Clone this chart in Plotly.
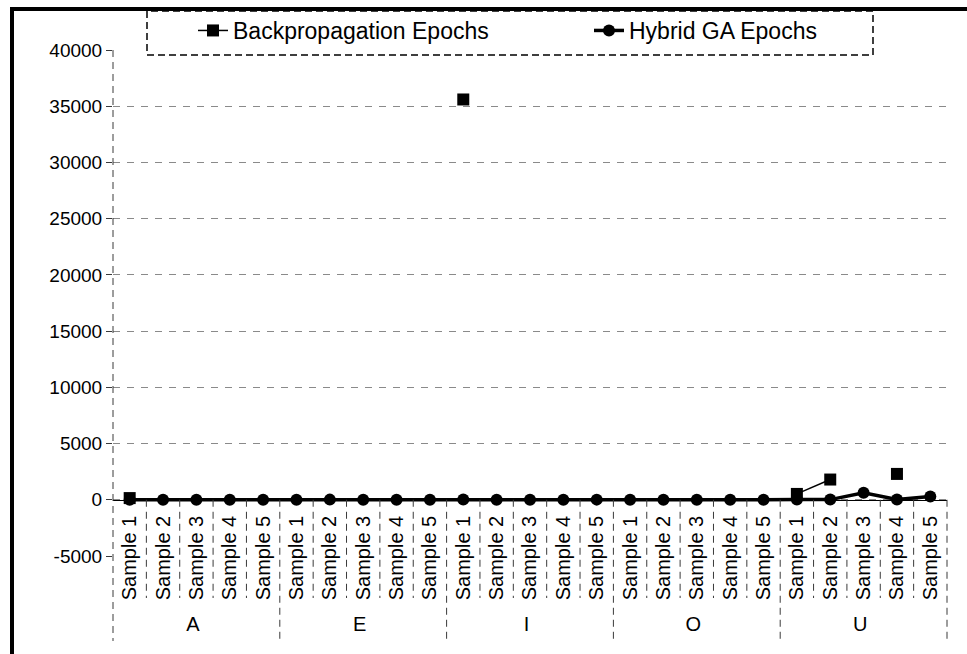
import plotly.graph_objects as go

# ---- data -------------------------------------------------------------
groups = ["A", "E", "I", "O", "U"]
samples = ["Sample 1", "Sample 2", "Sample 3", "Sample 4", "Sample 5"]

# Epochs needed to train each sample (None = no run recorded)
backprop_epochs = [
    150, None, None, None, None,      # A
    None, None, None, None, None,     # E
    35600, None, None, None, None,    # I
    None, None, None, None, None,     # O
    520, 1800, None, 2300, None,      # U
]
hybrid_ga_epochs = [
    12, 9, 10, 8, 11,                 # A
    10, 14, 9, 12, 10,                # E
    15, 10, 11, 9, 13,                # I
    12, 10, 8, 11, 9,                 # O
    20, 15, 620, 25, 300,             # U
]

y_ticks = [-5000, 0, 5000, 10000, 15000, 20000, 25000, 30000, 35000, 40000]

# ---- layout constants (pixels) ---------------------------------------
W, H = 967, 654
PL, PR, PT, PB = 113, 947, 50, 556
PW, PH = PR - PL, PB - PT
FONT = "Liberation Sans, Arial, sans-serif"

def px_x(px):
    return (px - PL) / PW

def px_y(py):
    return (PB - py) / PH

x_level_group = [g for g in groups for _ in samples]
x_level_sample = [s for _ in groups for s in samples]
n_cat = len(x_level_sample)
y_min, y_max = y_ticks[0], y_ticks[-1]
axis_frac = (0 - y_min) / (y_max - y_min)

fig = go.Figure()
fig.add_trace(go.Scatter(
    x=[x_level_group, x_level_sample], y=backprop_epochs,
    name="Backpropagation Epochs", mode="lines+markers",
    line=dict(color="black", width=1.5),
    marker=dict(symbol="square", size=12, color="black"),
    connectgaps=False,
))
fig.add_trace(go.Scatter(
    x=[x_level_group, x_level_sample], y=hybrid_ga_epochs,
    name="Hybrid GA Epochs", mode="lines+markers",
    line=dict(color="black", width=3.5),
    marker=dict(symbol="circle", size=12, color="black"),
))

shapes = []
# dashed dividers below the category axis
for i in range(n_cat + 1):
    xp = i / n_cat
    if i % len(samples) == 0:
        y_bottom = px_y(641)
    else:
        y_bottom = px_y(598)
    y_top = 1 if i == 0 else axis_frac
    shapes.append(dict(type="line", xref="paper", yref="paper",
                       x0=xp, x1=xp, y0=y_top, y1=y_bottom,
                       line=dict(color="#3a3a3a", width=1, dash="7px,5px")))
# dashed legend box
shapes.append(dict(type="rect", xref="paper", yref="paper",
                   x0=px_x(147), x1=px_x(873), y0=px_y(55), y1=px_y(11),
                   line=dict(color="black", width=1.5, dash="7px,4px")))
# frame lines along the top and left
shapes.append(dict(type="line", xref="paper", yref="paper",
                   x0=px_x(10), x1=px_x(970), y0=px_y(9), y1=px_y(9),
                   line=dict(color="black", width=4)))
shapes.append(dict(type="line", xref="paper", yref="paper",
                   x0=px_x(12), x1=px_x(12), y0=px_y(7), y1=px_y(660),
                   line=dict(color="black", width=4)))

fig.update_layout(
    width=W, height=H,
    margin=dict(l=PL, r=W - PR, t=PT, b=H - PB, autoexpand=False),
    paper_bgcolor="white", plot_bgcolor="white",
    font=dict(family=FONT, color="black"),
    showlegend=True,
    legend=dict(
        orientation="h", x=px_x(193), y=px_y(9),
        xanchor="left", yanchor="top",
        font=dict(family=FONT, size=23, color="black"),
        bgcolor="rgba(0,0,0,0)",
        entrywidth=351, entrywidthmode="pixels",
        traceorder="normal",
    ),
    shapes=shapes,
)

fig.update_xaxes(
    type="multicategory",
    range=[-0.5, n_cat - 0.5],
    anchor="free", position=axis_frac,
    showline=True, linecolor="black", linewidth=1,
    showgrid=False, zeroline=False,
    showdividers=False,
    ticks="", tickangle=-90,
    ticklabelstandoff=7,
    tickfont=dict(family=FONT, size=20, color="black"),
)
fig.update_yaxes(
    range=[y_min, y_max],
    tickvals=y_ticks, ticktext=[str(v) for v in y_ticks],
    showline=False, zeroline=False,
    showgrid=True, gridcolor="#8a8a8a", gridwidth=1, griddash="7px,7px",
    ticks="outside", ticklen=6, tickcolor="#3a3a3a", tickwidth=1,
    tickfont=dict(family=FONT, size=19, color="black"),
)

fig.write_html("out.html")
